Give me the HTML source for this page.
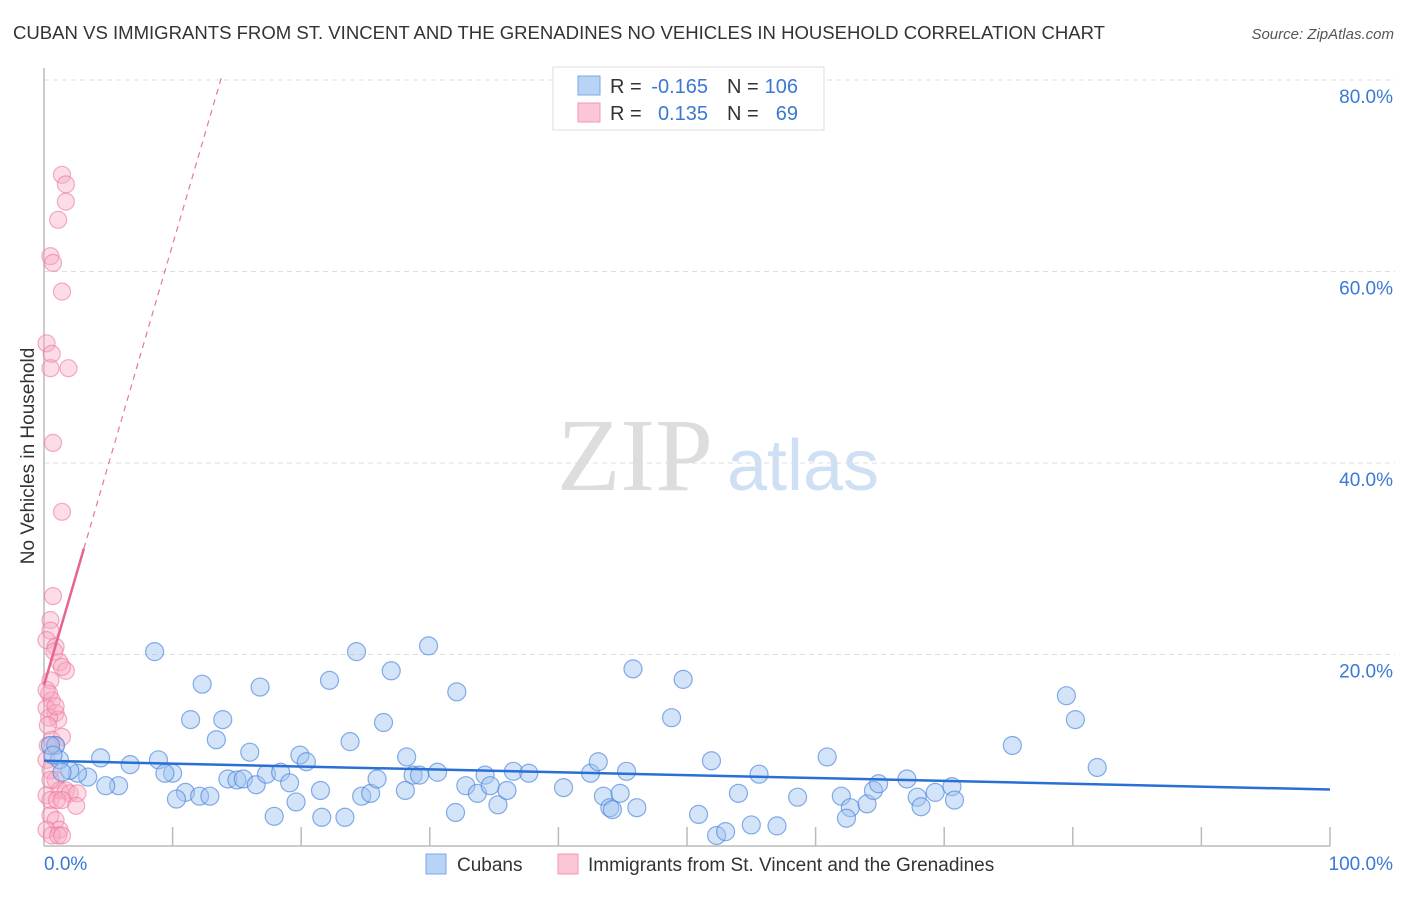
<!DOCTYPE html>
<html><head><meta charset="utf-8">
<style>
body{margin:0;background:#fff;font-family:"Liberation Sans",sans-serif;}
svg text{font-family:"Liberation Sans",sans-serif;}
</style></head>
<body>
<svg width="1406" height="892" viewBox="0 0 1406 892" xmlns="http://www.w3.org/2000/svg">
<text x="13" y="39" font-size="18.3" fill="#333" textLength="1092" lengthAdjust="spacingAndGlyphs">CUBAN VS IMMIGRANTS FROM ST. VINCENT AND THE GRENADINES NO VEHICLES IN HOUSEHOLD CORRELATION CHART</text>
<text x="1394" y="39" font-size="15" fill="#555" font-style="italic" text-anchor="end">Source: ZipAtlas.com</text>
<g>
<text x="635" y="490" font-size="104" fill="#ddd" text-anchor="middle" font-family="Liberation Serif" style="font-family:'Liberation Serif',serif">ZIP</text>
<text x="803" y="490" font-size="72" fill="#cfe0f5" text-anchor="middle">atlas</text>
</g>
<g id="grid"></g>
<g id="axes"></g>
<g id="marks"></g>
<text transform="translate(34,456) rotate(-90)" font-size="19" fill="#333" text-anchor="middle">No Vehicles in Household</text>
<g>
<rect x="553" y="67" width="271" height="63" fill="#fff" stroke="#ddd"/>
<rect x="578" y="76" width="22" height="19" fill="#b8d3f5" stroke="#7aa8e6"/>
<rect x="578" y="103" width="22" height="19" fill="#fbc6d5" stroke="#ef9ab4"/>
<text x="610" y="93" font-size="20" fill="#333">R =</text>
<text x="708" y="93" font-size="20" fill="#3a78d4" text-anchor="end">-0.165</text>
<text x="727" y="93" font-size="20" fill="#333">N =</text>
<text x="798" y="93" font-size="20" fill="#3a78d4" text-anchor="end">106</text>
<text x="610" y="120" font-size="20" fill="#333">R =</text>
<text x="708" y="120" font-size="20" fill="#3a78d4" text-anchor="end">0.135</text>
<text x="727" y="120" font-size="20" fill="#333">N =</text>
<text x="798" y="120" font-size="20" fill="#3a78d4" text-anchor="end">69</text>
</g>
<g>
<rect x="426" y="854" width="20" height="20" fill="#b8d3f5" stroke="#7aa8e6"/>
<text x="457" y="871" font-size="19" fill="#333">Cubans</text>
<rect x="558" y="854" width="20" height="20" fill="#fbc6d5" stroke="#ef9ab4"/>
<text x="588" y="871" font-size="19" fill="#333">Immigrants from St. Vincent and the Grenadines</text>
</g>
</svg>
<script>
const yTicks=[20,40,60,80];
const yTickLabels=["20.0%","40.0%","60.0%","80.0%"];
const xTicks=[0,10,20,30,40,50,60,70,80,90,100];
const blueX=[8.6,12.3,11.4,13.9,16.8,13.4,16.0,4.4,6.7,8.9,10.0,9.4,5.8,4.8,3.4,2.6,2.0,0.9,1.2,11.0,10.3,12.1,12.9,14.3,15.0,15.5,16.5,17.3,18.4,19.1,19.6,17.9,19.9,20.4,22.2,21.5,21.6,23.4,23.8,24.3,24.7,25.4,25.9,26.4,27.0,28.1,28.2,28.7,29.2,29.9,30.6,32.1,32.0,32.8,33.7,34.3,34.7,35.3,36.0,36.5,37.7,40.4,42.5,43.1,43.5,44.0,44.2,44.8,45.3,45.8,46.1,48.8,49.7,50.9,51.9,52.3,53.0,54.0,55.0,55.6,57.0,58.6,60.9,62.0,62.7,62.4,64.0,64.5,64.9,67.1,67.9,68.2,69.3,70.6,70.8,75.3,79.5,80.2,81.9,0.5,0.7,1.4];
const blueY=[20.3,16.9,13.2,13.2,16.6,11.1,9.8,9.2,8.5,9.0,7.6,7.6,6.3,6.3,7.2,7.6,7.9,10.5,9.0,5.6,4.9,5.2,5.2,7.0,6.9,7.0,6.4,7.5,7.7,6.6,4.6,3.1,9.5,8.8,17.3,5.8,3.0,3.0,10.9,20.3,5.2,5.5,7.0,12.9,18.3,5.8,9.3,7.4,7.4,20.9,7.7,16.1,3.5,6.3,5.5,7.4,6.3,4.3,5.8,7.8,7.6,6.1,7.6,8.8,5.2,4.0,3.8,5.5,7.8,18.5,4.0,13.4,17.4,3.3,8.9,1.1,1.5,5.5,2.2,7.5,2.1,5.1,9.3,5.2,4.0,2.9,4.4,5.8,6.5,7.0,5.1,4.1,5.6,6.2,4.8,10.5,15.7,13.2,8.2,10.5,9.5,7.7];
const pinkX=[1.4,1.7,1.7,1.1,0.5,0.7,1.4,0.2,0.6,0.5,1.9,0.7,1.4,0.7,0.5,0.5,0.2,0.9,1.2,1.7,1.4,0.5,0.4,0.6,0.2,0.9,1.1,0.4,0.6,1.4,0.3,0.9,0.2,0.5,0.9,1.2,1.7,2.0,2.6,0.2,0.5,1.0,1.4,2.5,0.5,0.9,1.2,0.2,0.6,1.1,1.4,0.5,0.3,0.2,0.8,0.9];
const pinkY=[70.1,69.1,67.3,65.4,61.6,60.9,57.9,52.5,51.4,49.9,49.9,42.1,34.9,26.1,23.6,22.5,21.5,20.8,19.2,18.3,18.7,17.3,15.9,15.2,14.4,13.9,13.2,13.4,11.1,11.4,10.5,10.5,9.0,7.9,6.9,5.8,5.8,5.5,5.5,5.3,4.8,4.8,4.8,4.2,3.2,2.7,1.7,1.7,1.1,1.1,1.1,6.9,12.6,16.3,20.3,14.6];
const blueTrend=[8.9,5.9];
const pinkTrendStart=16.8, pinkTrendSlope=4.6, pinkSolidEnd=3.1, pinkDashEnd=13.8;

const X0=44,X1=1330,Y0=846,Y80=80;
const sx=v=>X0+(X1-X0)*v/100;
const sy=v=>Y0-(Y0-Y80)*v/80;
const NS="http://www.w3.org/2000/svg";
function mk(tag,attrs,parent){const e=document.createElementNS(NS,tag);for(const k in attrs)e.setAttribute(k,attrs[k]);document.getElementById(parent).appendChild(e);return e;}

yTicks.forEach((t,i)=>{
  const g=mk('line',{x1:X0,x2:1395,y1:sy(t),y2:sy(t),stroke:'#ddd','stroke-dasharray':'5,4'},'grid');
  
  
  const l=mk('text',{x:1393,y:sy(t)+23,'font-size':19,fill:'#3a78d4','text-anchor':'end'},'grid');
  l.textContent=yTickLabels[i];
  
  
});
const ya=mk('line',{x1:X0,x2:X0,y1:68,y2:Y0,stroke:'#bbb','stroke-width':1.5},'axes');


const xa=mk('line',{x1:X0,x2:X1,y1:Y0,y2:Y0,stroke:'#bbb','stroke-width':1.5},'axes');


xTicks.forEach(t=>{
  if(t===0)return;
  const tk=mk('line',{x1:sx(t),x2:sx(t),y1:Y0-19,y2:Y0,stroke:'#bbb','stroke-width':1.5},'axes');
  
  
});
const xl0=mk('text',{x:X0,y:870,'font-size':19,fill:'#3a78d4'},'axes');xl0.textContent='0.0%';


const xl1=mk('text',{x:1393,y:870,'font-size':19,fill:'#3a78d4','text-anchor':'end'},'axes');xl1.textContent='100.0%';



pinkX.forEach((x,i)=>{
  const c=mk('circle',{cx:sx(x),cy:sy(pinkY[i]),r:8.5,fill:'rgba(248,170,195,0.4)',stroke:'rgba(236,120,155,0.6)','stroke-width':1.2},'marks');
  
  
});
blueX.forEach((x,i)=>{
  const c=mk('circle',{cx:sx(x),cy:sy(blueY[i]),r:9,fill:'rgba(160,196,240,0.45)',stroke:'rgba(70,130,220,0.65)','stroke-width':1.2},'marks');
  
  
});
const bt=mk('line',{x1:sx(0),y1:sy(blueTrend[0]),x2:sx(100),y2:sy(blueTrend[1]),stroke:'#2a6fd6','stroke-width':2.5},'marks');


const pd=mk('line',{x1:sx(pinkSolidEnd),y1:sy(pinkTrendStart+pinkTrendSlope*pinkSolidEnd),x2:sx(pinkDashEnd),y2:sy(pinkTrendStart+pinkTrendSlope*pinkDashEnd),stroke:'#e8779b','stroke-width':1.2,'stroke-dasharray':'6,5'},'marks');


const ps=mk('line',{x1:sx(0),y1:sy(pinkTrendStart),x2:sx(pinkSolidEnd),y2:sy(pinkTrendStart+pinkTrendSlope*pinkSolidEnd),stroke:'#e8638e','stroke-width':2.5},'marks');


</script>
</body></html>
